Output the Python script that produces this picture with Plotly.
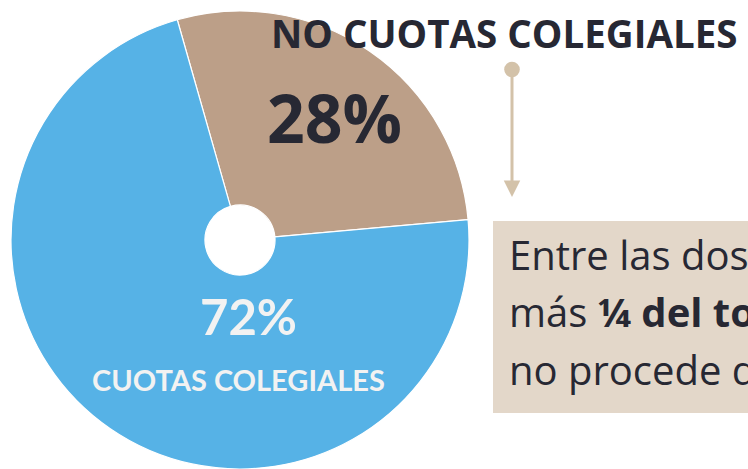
import plotly.graph_objects as go

# data
labels = ['NO CUOTAS COLEGIALES', 'CUOTAS COLEGIALES']
values = [28, 72]
colors = ['#BC9F88', '#56B2E6']
note_lines = ['Entre las dos', 'más <b>¼ del to</b>', 'no procede d']

W, H = 748, 469
DARK = '#272833'


def px(x):
    return x / W


def py(y):
    return 1 - y / H


fig = go.Figure(go.Pie(
    labels=labels,
    values=values,
    marker=dict(colors=colors, line=dict(color='white', width=1.2)),
    hole=0.153,
    sort=False,
    direction='clockwise',
    rotation=-15.9,
    textinfo='none',
    hoverinfo='label+percent',
    showlegend=False,
    domain=dict(x=[px(11), px(469)], y=[py(469), py(11)]),
))

# beige note box, runs off the right edge
fig.add_shape(type='rect', xref='paper', yref='paper',
              x0=px(493), x1=1.05, y0=py(413), y1=py(221),
              fillcolor='#E3D7C9', line=dict(width=0), layer='below')

ann = []
ann.append(dict(text='<b>' + labels[0] + '</b>', x=px(504), y=py(33),
                font=dict(size=38.5, color=DARK, family='Open Sans')))
ann.append(dict(text='<b>%d%%</b>' % values[0], x=px(334), y=py(117),
                font=dict(size=66, color=DARK, family='Open Sans')))
ann.append(dict(text='<b>%d%%</b>' % values[1], x=px(248), y=py(316),
                font=dict(size=49, color='#F2F2F2', family='Lato')))
ann.append(dict(text='<b>' + labels[1] + '</b>', x=px(238), y=py(379),
                font=dict(size=29, color='#F2F2F2', family='Lato')))
for i, line in enumerate(note_lines):
    ann.append(dict(text=line, x=px(507), y=py(254 + 57.5 * i), xanchor='left',
                    font=dict(size=40, color=DARK, family='Open Sans')))
for a in ann:
    a.setdefault('xanchor', 'center')
    a.update(xref='paper', yref='paper', yanchor='middle', showarrow=False)
    fig.add_annotation(**a)

# pointer from the title down to the box
fig.add_annotation(xref='paper', yref='paper', x=px(512), y=py(197),
                   ax=0, ay=-129,
                   text='', showarrow=True, arrowside='end+start',
                   arrowhead=2, startarrowhead=6, arrowsize=1.1, startarrowsize=1.3,
                   arrowwidth=3, arrowcolor='#D3C2A9')

fig.update_layout(
    width=W, height=H,
    margin=dict(l=0, r=0, t=0, b=0),
    paper_bgcolor='white', plot_bgcolor='white',
)
fig.write_html('out.html', config={'displayModeBar': False},
               post_script="document.body.style.margin='0';")
